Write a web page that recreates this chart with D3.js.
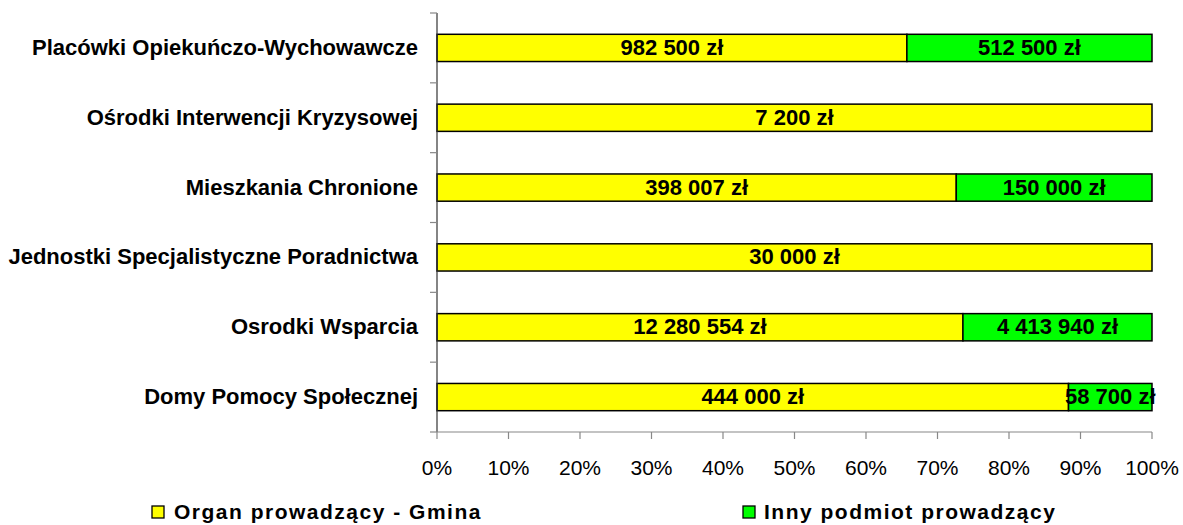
<!DOCTYPE html>
<html><head><meta charset="utf-8">
<script src="https://cdn.jsdelivr.net/npm/d3@7"></script>
<style>body{margin:0;background:#fff;} svg{display:block;font-family:Arial,"Liberation Sans",sans-serif;}</style>
</head><body>
<svg id="c" width="1183" height="525"></svg>
<script>
const categories = ["Placówki Opiekuńczo-Wychowawcze","Ośrodki Interwencji Kryzysowej","Mieszkania Chronione","Jednostki Specjalistyczne Poradnictwa","Osrodki Wsparcia","Domy Pomocy Społecznej"];
const gmina = [982500, 7200, 398007, 30000, 12280554, 444000];
const inny = [512500, 0, 150000, 0, 4413940, 58700];
const seriesNames = ["Organ prowadzący - Gmina","Inny podmiot prowadzący"];
const colors = ["#ffff00","#00ff00"];
const xTicks = [0,0.1,0.2,0.3,0.4,0.5,0.6,0.7,0.8,0.9,1];

const svg = d3.select("#c");
const L=437, R=1152, T=13, B=432;
const x = d3.scaleLinear().domain([0,1]).range([L,R]);
const y = d3.scaleBand().domain(categories).range([T,B]).paddingInner(0.61).paddingOuter(0.305);

const fmt = v => d3.format(",")(v).replace(/,/g," ") + " zł";

categories.forEach((c,i)=>{
  const tot = gmina[i]+inny[i];
  const segs = [{v:gmina[i],s:0,c:colors[0]},{v:inny[i],s:gmina[i],c:colors[1]}];
  segs.forEach(sg=>{
    if(sg.v<=0) return;
    const x0=x(sg.s/tot), x1=x((sg.s+sg.v)/tot);
    svg.append("rect").attr("x",x0).attr("y",y(c)).attr("width",x1-x0).attr("height",y.bandwidth())
      .attr("fill",sg.c).attr("stroke","#000").attr("stroke-width",1.5);
  });
  segs.forEach(sg=>{
    if(sg.v<=0) return;
    const x0=x(sg.s/tot), x1=x((sg.s+sg.v)/tot);
    svg.append("text").attr("x",(x0+x1)/2).attr("y",y(c)+y.bandwidth()/2+7)
      .attr("text-anchor","middle").attr("font-weight","bold").attr("font-size",22).text(fmt(sg.v));
  });
  svg.append("text").attr("x",418).attr("y",y(c)+y.bandwidth()/2+7).attr("text-anchor","end")
    .attr("font-weight","bold").attr("font-size",22).text(c);
});

// y axis
svg.append("line").attr("x1",L).attr("x2",L).attr("y1",T).attr("y2",B).attr("stroke","#333").attr("stroke-width",1.2);
const step=(B-T)/categories.length;
d3.range(categories.length+1).forEach(k=>{
  svg.append("line").attr("x1",L-7).attr("x2",L).attr("y1",T+k*step).attr("y2",T+k*step).attr("stroke","#888").attr("stroke-width",1.2);
});
// x axis
svg.append("line").attr("x1",L).attr("x2",R).attr("y1",B).attr("y2",B).attr("stroke","#888").attr("stroke-width",1.2);
xTicks.forEach(t=>{
  svg.append("line").attr("x1",x(t)).attr("x2",x(t)).attr("y1",B).attr("y2",B+7).attr("stroke","#888").attr("stroke-width",1.2);
  svg.append("text").attr("x",x(t)).attr("y",475).attr("text-anchor","middle").attr("font-size",21).text(d3.format(".0%")(t));
});

// legend
const lg=[{x:152,tx:174},{x:743,tx:764}];
seriesNames.forEach((n,i)=>{
  svg.append("rect").attr("x",lg[i].x).attr("y",506).attr("width",12).attr("height",12).attr("fill",colors[i]).attr("stroke","#000").attr("stroke-width",1.3);
  svg.append("text").attr("x",lg[i].tx).attr("y",519).attr("font-weight","bold").attr("font-size",21).attr("letter-spacing",1.5).text(n);
});
</script>
</body></html>
